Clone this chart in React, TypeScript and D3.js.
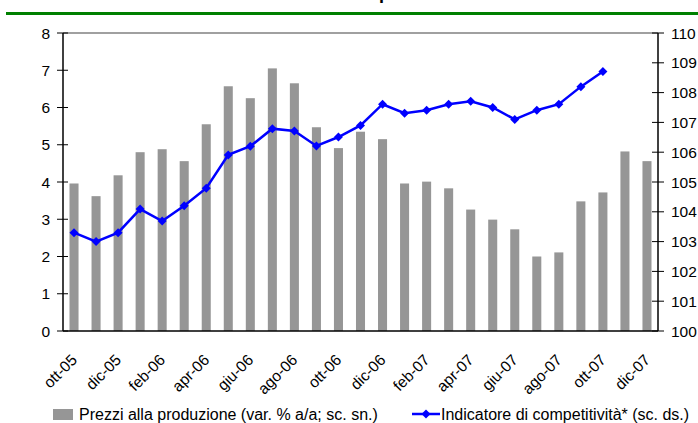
import React from "react";
import * as d3 from "d3";

const months = [
  "ott-05","nov-05","dic-05","gen-06","feb-06","mar-06","apr-06","mag-06","giu-06","lug-06","ago-06","set-06",
  "ott-06","nov-06","dic-06","gen-07","feb-07","mar-07","apr-07","mag-07","giu-07","lug-07","ago-07","set-07",
  "ott-07","nov-07","dic-07",
];
const prezzi = [3.96,3.62,4.18,4.8,4.88,4.56,5.55,6.57,6.25,7.05,6.65,5.47,4.91,5.35,5.15,3.96,4.01,3.83,3.26,2.99,2.73,2.0,2.11,3.48,3.72,4.82,4.56];
const competitivita: (number | null)[] = [103.3,103.0,103.3,104.09,103.69,104.2,104.79,105.91,106.2,106.79,106.71,106.21,106.51,106.9,107.61,107.31,107.41,107.61,107.71,107.5,107.1,107.41,107.61,108.2,108.71,null,null];
const leftTicks = [0,1,2,3,4,5,6,7,8];
const rightTicks = [100,101,102,103,104,105,106,107,108,109,110];
const xLabels = ["ott-05","dic-05","feb-06","apr-06","giu-06","ago-06","ott-06","dic-06","feb-07","apr-07","giu-07","ago-07","ott-07","dic-07"];

const L = 63, R = 658, T = 33, B = 331;
const FONT = "'Liberation Sans', Arial, sans-serif";

export default function App() {
  const x = d3.scaleBand<string>().domain(months).range([L, R]).paddingInner(0.59).paddingOuter(0.295);
  const yL = d3.scaleLinear().domain([0, 8]).range([B, T]);
  const yR = d3.scaleLinear().domain([100, 110]).range([B, T]);
  const cx = (m: string) => (x(m) as number) + x.bandwidth() / 2;
  const pts = months.map((m, i) => ({ m, v: competitivita[i] })).filter((d) => d.v !== null) as { m: string; v: number }[];
  const line = d3.line<{ m: string; v: number }>().x((d) => cx(d.m)).y((d) => yR(d.v));
  const diamond = (px: number, py: number, r = 4.5) => `M${px},${py - r}L${px + r},${py}L${px},${py + r}L${px - r},${py}Z`;

  return (
    <svg width={698} height={423} style={{ position: "absolute", left: 0, top: 0, background: "#fff" }} fontFamily={FONT}>
      <rect x={0} y={0} width={698} height={423} fill="#fff" />
      <text x={379} y={-1} fontSize={18} fontWeight="bold" fill="#000">p</text>
      <rect x={6} y={12} width={692} height={3} fill="#008000" />
      {/* plot border */}
      <line x1={L} x2={R} y1={T} y2={T} stroke="#808080" strokeWidth={1.5} />
      {months.map((m, i) => (
        <rect key={m} x={x(m)} y={yL(prezzi[i])} width={x.bandwidth()} height={B - yL(prezzi[i])} fill="#969696" />
      ))}
      {/* axes */}
      <line x1={L} x2={L} y1={T} y2={B} stroke="#000" strokeWidth={1.5} />
      <line x1={R} x2={R} y1={T} y2={B} stroke="#000" strokeWidth={1.5} />
      <line x1={L} x2={R} y1={B} y2={B} stroke="#000" strokeWidth={1.5} />
      {leftTicks.map((t) => (
        <g key={t}>
          <line x1={L - 6} x2={L + 5} y1={yL(t)} y2={yL(t)} stroke="#000" strokeWidth={1} />
          <text x={50} y={yL(t) + 5.5} fontSize={15.5} textAnchor="end" fill="#000">{t}</text>
        </g>
      ))}
      {rightTicks.map((t) => (
        <g key={t}>
          <line x1={R - 6} x2={R + 6} y1={yR(t)} y2={yR(t)} stroke="#000" strokeWidth={1} />
          <text x={671} y={yR(t) + 5.5} fontSize={15.5} textAnchor="start" fill="#000">{t}</text>
        </g>
      ))}
      <path d={line(pts) || ""} fill="none" stroke="#0000ff" strokeWidth={2.5} />
      {pts.map((d) => (
        <path key={d.m} d={diamond(cx(d.m), yR(d.v))} fill="#0000ff" />
      ))}
      {xLabels.map((lab) => (
        <text key={lab} transform={`translate(${cx(lab) + 4},${361}) rotate(-45)`} fontSize={15.5} textAnchor="end" fill="#000">{lab}</text>
      ))}
      {/* legend */}
      <rect x={53} y={409} width={20} height={11} fill="#969696" />
      <text x={79} y={420} fontSize={16} fill="#000">Prezzi alla produzione (var. % a/a; sc. sn.)</text>
      <line x1={412} x2={440} y1={414} y2={414} stroke="#0000ff" strokeWidth={2.5} />
      <path d={diamond(426, 414, 4.5)} fill="#0000ff" />
      <text x={441} y={420} fontSize={16} fill="#000">Indicatore di competitività* (sc. ds.)</text>
    </svg>
  );
}
